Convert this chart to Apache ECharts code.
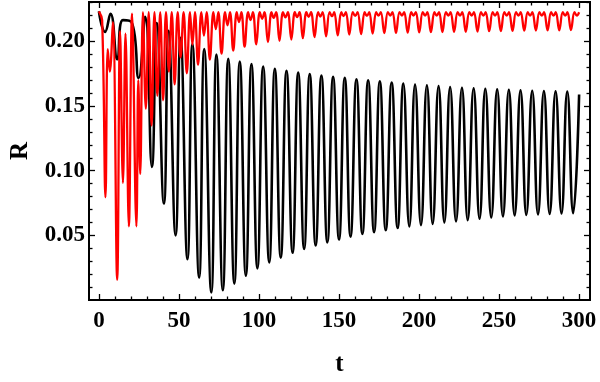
<!DOCTYPE html>
<html>
<head>
<meta charset="utf-8">
<script src="https://cdn.jsdelivr.net/npm/echarts@6/dist/echarts.min.js"></script>
<style>
  html, body { margin: 0; padding: 0; background: #fff; }
  #chart { width: 600px; height: 382px; }
</style>
</head>
<body>
<div id="chart"></div>
<script>
// tick values
const xMajor = [0, 50, 100, 150, 200, 250, 300];
const xMinor = [10, 20, 30, 40, 60, 70, 80, 90, 110, 120, 130, 140, 160, 170, 180, 190,
  210, 220, 230, 240, 260, 270, 280, 290];
const yMajor = [0.05, 0.10, 0.15, 0.20];
const yMinor = [0.01, 0.02, 0.03, 0.04, 0.06, 0.07, 0.08, 0.09, 0.11, 0.12, 0.13, 0.14,
  0.16, 0.17, 0.18, 0.19, 0.21, 0.22, 0.23];

// black curve: crests and troughs, [t, R]
const blackCrests = [
  [0, 0.2233], [7.2, 0.2214], [15.0, 0.2165], [20.4, 0.2148], [28.9, 0.2190], [36.1, 0.2143],
  [43.5, 0.2082], [51.0, 0.2028], [58.4, 0.1982], [65.8, 0.1942], [73.4, 0.1898], [80.8, 0.1866],
  [88.0, 0.1845], [95.3, 0.1825], [102.6, 0.1806], [109.9, 0.1788], [117.2, 0.1773], [124.5, 0.1759],
  [131.7, 0.1747], [139.0, 0.1737], [146.3, 0.1726], [153.6, 0.1718], [160.9, 0.1708], [168.2, 0.1700],
  [175.5, 0.1692], [182.9, 0.1682], [190.2, 0.1674], [197.5, 0.1667], [204.9, 0.1661], [212.2, 0.1654],
  [219.4, 0.1648], [226.8, 0.1642], [234.1, 0.1638], [241.4, 0.1634], [248.8, 0.1629], [256.1, 0.1625],
  [263.4, 0.1622], [270.7, 0.1619], [278.0, 0.1617], [285.3, 0.1615], [292.6, 0.1612], [300.0, 0.1590]
];
const blackTroughs = [
  [3.8, 0.2074], [11.5, 0.1862], [24.8, 0.1717], [33.1, 0.1030], [40.6, 0.0746], [47.9, 0.0500],
  [55.3, 0.0316], [62.6, 0.0173], [70.2, 0.0058], [77.4, 0.0075], [84.6, 0.0127], [91.8, 0.0188],
  [99.0, 0.0245], [106.4, 0.0291], [113.6, 0.0328], [121.0, 0.0365], [128.2, 0.0395], [135.4, 0.0422],
  [142.7, 0.0446], [150.0, 0.0468], [157.2, 0.0490], [164.6, 0.0510], [171.9, 0.0525], [179.2, 0.0540],
  [186.6, 0.0557], [193.9, 0.0569], [201.2, 0.0579], [208.5, 0.0589], [215.8, 0.0600], [223.1, 0.0608],
  [230.4, 0.0618], [237.8, 0.0628], [245.1, 0.0638], [252.4, 0.0646], [259.7, 0.0654], [267.0, 0.0658],
  [274.3, 0.0662], [281.6, 0.0666], [289.0, 0.0670], [296.3, 0.0672]
];

// red curve: deep troughs, small notches on the tops, and crests, [t, R]
const redTroughs = [
  [4.1, 0.0795], [11.4, 0.0156], [15.0, 0.0906], [18.7, 0.0570], [23.4, 0.0570], [25.8, 0.0975],
  [32.9, 0.1350], [40.1, 0.1545], [47.3, 0.1668], [54.9, 0.1754], [61.9, 0.1820], [69.3, 0.1860],
  [76.6, 0.1905], [83.9, 0.1930], [91.0, 0.1960], [98.3, 0.1978], [105.6, 0.1995], [112.8, 0.2005],
  [120.2, 0.2015], [127.4, 0.2025], [134.7, 0.2033], [141.9, 0.2040], [149.2, 0.2047], [156.4, 0.2053],
  [163.8, 0.2057], [171.0, 0.2061], [178.3, 0.2064], [185.6, 0.2066], [192.9, 0.2068], [200.1, 0.2070],
  [207.4, 0.2072], [214.6, 0.2073], [221.9, 0.2074], [229.2, 0.2075], [236.5, 0.2077], [243.8, 0.2079],
  [251.1, 0.2080], [258.4, 0.2082], [265.7, 0.2083], [273.0, 0.2084], [280.3, 0.2085], [287.6, 0.2086],
  [294.9, 0.2088]
];
const redNotches = [
  [6.8, 0.1766], [29.3, 0.1480], [36.5, 0.1580], [43.7, 0.1766], [51.0, 0.1877], [58.4, 0.1975],
  [65.6, 0.2045], [73.0, 0.2095], [80.3, 0.2125], [87.5, 0.2150], [94.7, 0.2165], [102.0, 0.2175],
  [109.2, 0.2182], [116.5, 0.2186], [123.8, 0.2189], [131.0, 0.2191], [138.3, 0.2193], [145.6, 0.2195],
  [152.8, 0.2196], [160.1, 0.2197], [167.4, 0.2198], [174.6, 0.2199], [182.0, 0.2200], [189.3, 0.2200],
  [196.5, 0.2200], [203.8, 0.2200], [211.0, 0.2200], [218.3, 0.2200], [225.6, 0.2200], [232.9, 0.2200],
  [240.2, 0.2200], [247.5, 0.2200], [254.8, 0.2200], [262.1, 0.2200], [269.4, 0.2200], [276.7, 0.2200],
  [284.0, 0.2200], [291.3, 0.2200], [298.6, 0.2200]
];
const redCrests = [
  [0, 0.2233], [2.0, 0.2165], [5.5, 0.1940], [8.7, 0.2150], [13.2, 0.2080], [16.6, 0.2060],
  [20.7, 0.2215], [24.6, 0.1700], [27.5, 0.2226], [31.1, 0.2226], [34.7, 0.2226], [38.3, 0.2226],
  [41.9, 0.2226], [45.5, 0.2226], [49.2, 0.2226], [52.9, 0.2226], [56.9, 0.2226], [60.0, 0.2226],
  [64.0, 0.2226], [67.3, 0.2226], [71.5, 0.2226], [74.6, 0.2226], [78.8, 0.2226], [81.9, 0.2226],
  [86.1, 0.2226], [89.0, 0.2226], [93.2, 0.2226], [96.2, 0.2226], [100.5, 0.2226], [103.4, 0.2226],
  [107.8, 0.2226], [110.7, 0.2226], [115.0, 0.2226], [118.0, 0.2226], [122.4, 0.2226], [125.3, 0.2226],
  [129.6, 0.2226], [132.5, 0.2226], [136.9, 0.2226], [139.8, 0.2226], [144.1, 0.2226], [147.0, 0.2226],
  [151.4, 0.2226], [154.3, 0.2226], [158.6, 0.2226], [161.6, 0.2226], [166.0, 0.2226], [168.9, 0.2226],
  [173.2, 0.2226], [176.1, 0.2226], [180.5, 0.2226], [183.4, 0.2226], [187.8, 0.2226], [190.7, 0.2226],
  [195.1, 0.2226], [198.0, 0.2226], [202.3, 0.2226], [205.2, 0.2226], [209.6, 0.2226], [212.5, 0.2226],
  [216.8, 0.2226], [219.7, 0.2226], [224.1, 0.2226], [227.0, 0.2226], [231.4, 0.2226], [234.3, 0.2226],
  [238.7, 0.2226], [241.6, 0.2226], [246.0, 0.2226], [248.9, 0.2226], [253.3, 0.2226], [256.2, 0.2226],
  [260.6, 0.2226], [263.5, 0.2226], [267.9, 0.2226], [270.8, 0.2226], [275.2, 0.2226], [278.1, 0.2226],
  [282.5, 0.2226], [285.4, 0.2226], [289.8, 0.2226], [292.7, 0.2226], [297.1, 0.2226], [300.0, 0.2226]
];

const byT = (a, b) => a[0] - b[0];
const blackData = blackCrests.concat(blackTroughs).sort(byT);
const redData = redCrests.concat(redTroughs, redNotches).sort(byT);

const X_MIN = -6.2, X_MAX = 306.8;
const Y_MIN = 0, Y_MAX = 0.2305;

const labelFont = {
  fontFamily: 'Liberation Serif',
  fontWeight: 'bold',
  fontSize: 23,
  color: '#000'
};

function xAxis(pos, ticks, len, withLabel) {
  return {
    type: 'value',
    position: pos,
    min: X_MIN,
    max: X_MAX,
    name: withLabel ? 't' : '',
    nameLocation: 'middle',
    nameGap: 52,
    nameTextStyle: { fontFamily: 'Liberation Serif', fontWeight: 'bold', fontSize: 25, color: '#000' },
    axisLine: { show: true, onZero: false, lineStyle: { color: '#000', width: 2 } },
    axisTick: { show: true, inside: true, length: len, customValues: ticks, lineStyle: { color: '#000', width: 1.3 } },
    axisLabel: Object.assign({ show: withLabel, customValues: ticks, margin: 10 }, labelFont),
    splitLine: { show: false }
  };
}

function yAxis(pos, ticks, len, withLabel) {
  return {
    type: 'value',
    position: pos,
    min: Y_MIN,
    max: Y_MAX,
    name: withLabel ? 'R' : '',
    nameLocation: 'middle',
    nameGap: 56,
    nameTextStyle: { fontFamily: 'Liberation Serif', fontWeight: 'bold', fontSize: 25, color: '#000' },
    axisLine: { show: true, onZero: false, lineStyle: { color: '#000', width: 2 } },
    axisTick: { show: true, inside: true, length: len, customValues: ticks, lineStyle: { color: '#000', width: 1.3 } },
    axisLabel: Object.assign({ show: withLabel, customValues: ticks, margin: 4,
      formatter: (v) => v.toFixed(2) }, labelFont),
    splitLine: { show: false }
  };
}

const chart = echarts.init(document.getElementById('chart'));
chart.setOption({
  animation: false,
  backgroundColor: '#fff',
  grid: { left: 83, right: 10, top: 2, bottom: 69 },
  xAxis: [
    xAxis('bottom', xMajor, 6, true),
    xAxis('top', xMajor, 6, false),
    xAxis('bottom', xMinor, 3.5, false),
    xAxis('top', xMinor, 3.5, false)
  ],
  yAxis: [
    yAxis('left', yMajor, 6, true),
    yAxis('right', yMajor, 6, false),
    yAxis('left', yMinor, 3.5, false),
    yAxis('right', yMinor, 3.5, false)
  ],
  series: [
    {
      type: 'line',
      data: blackData,
      showSymbol: false,
      smooth: 0.5,
      lineStyle: { color: '#000', width: 2.6 },
      itemStyle: { color: '#000' }
    },
    {
      type: 'line',
      data: redData,
      showSymbol: false,
      smooth: 0.4,
      lineStyle: { color: '#ff0000', width: 2.3 },
      itemStyle: { color: '#ff0000' }
    }
  ]
});
</script>
</body>
</html>
